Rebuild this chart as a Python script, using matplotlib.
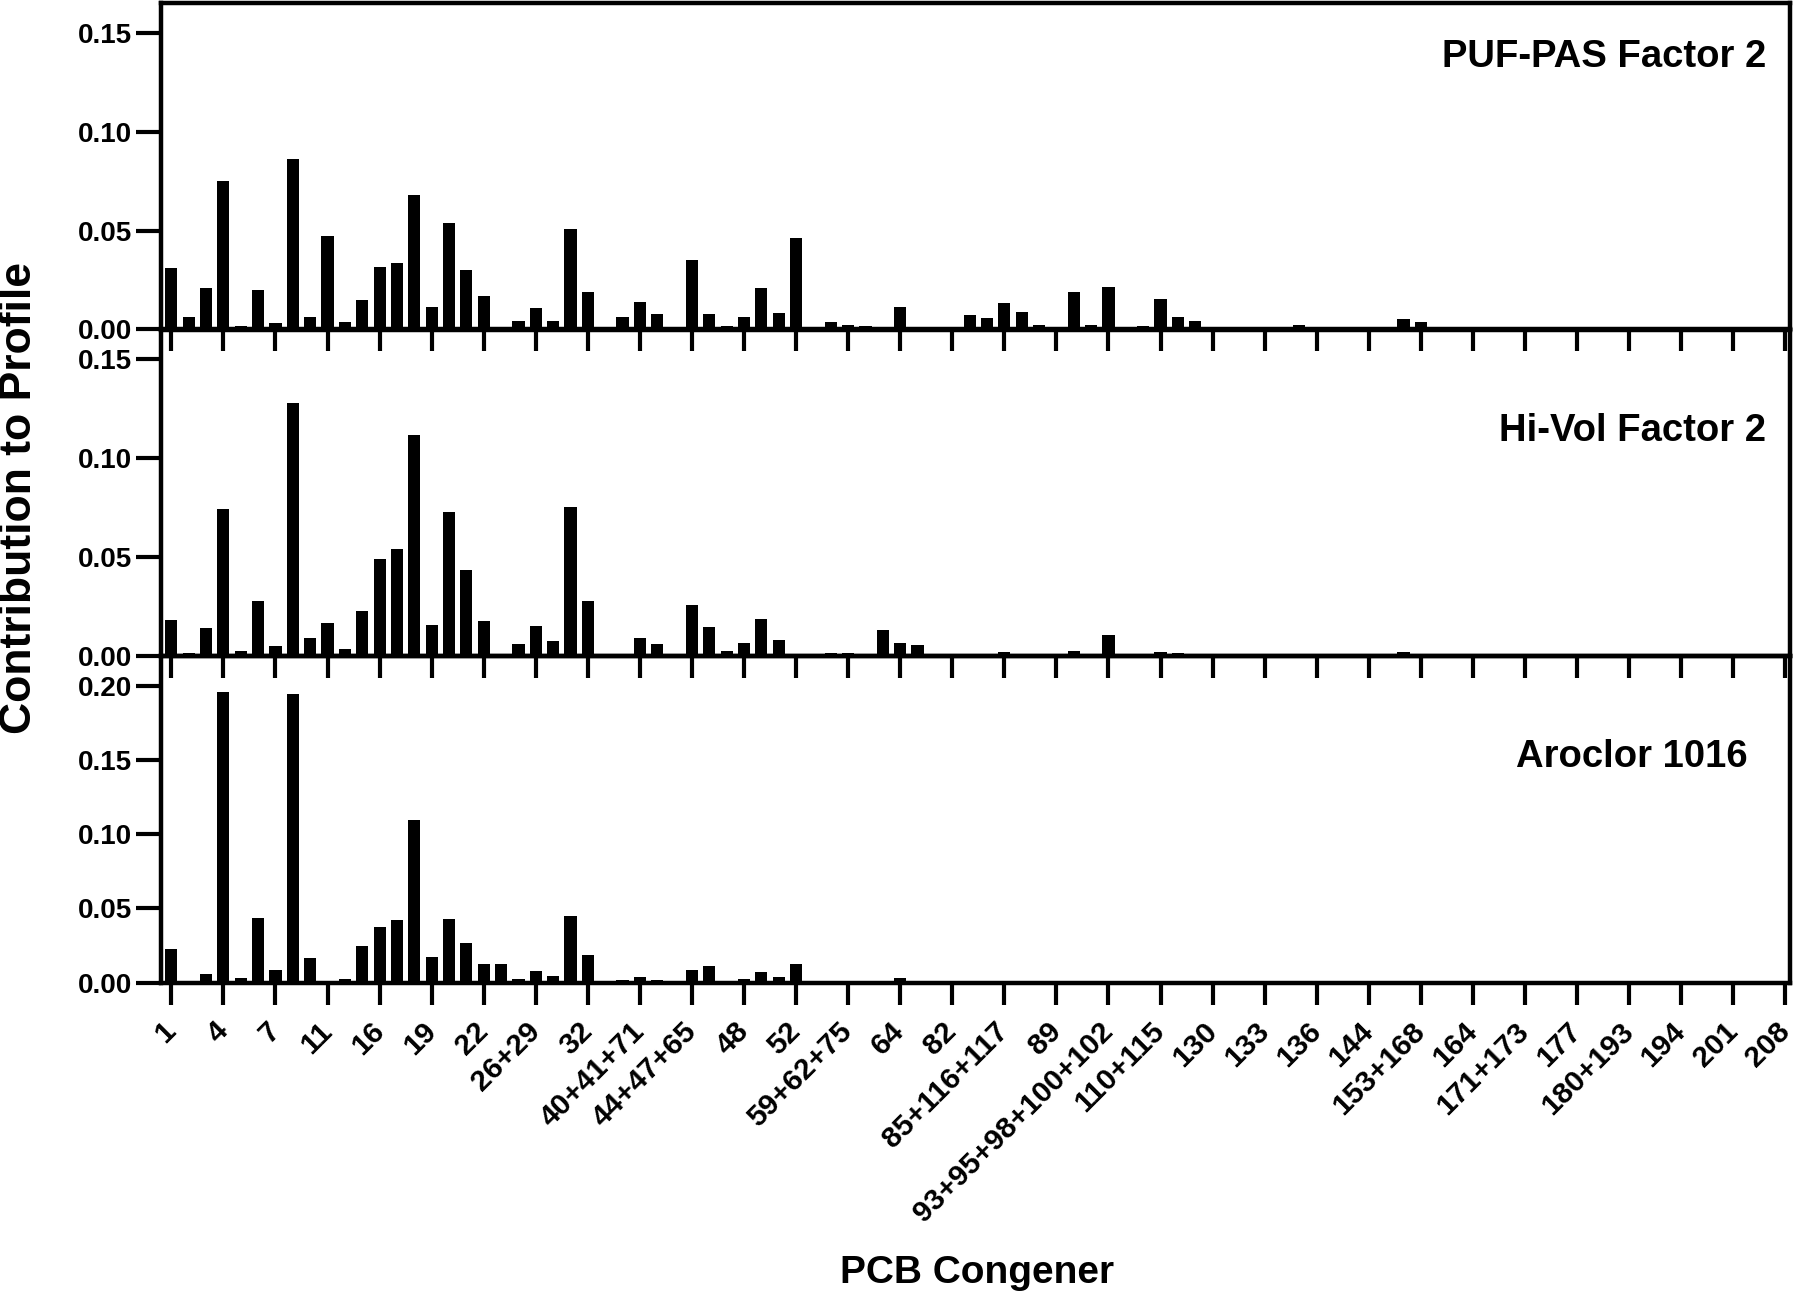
import numpy as np
import matplotlib
matplotlib.use("Agg")
import matplotlib.pyplot as plt

# Congener labels (one label every third bar)
tick_labels = ["1", "4", "7", "11", "16", "19", "22", "26+29", "32", "40+41+71",
               "44+47+65", "48", "52", "59+62+75", "64", "82", "85+116+117", "89",
               "93+95+98+100+102", "110+115", "130", "133", "136", "144", "153+168",
               "164", "171+173", "177", "180+193", "194", "201", "208"]

# Profile contributions, one value per bar (94 bars)
puf_pas = [0.031, 0.0063, 0.021, 0.075, 0.0017, 0.0197, 0.0034, 0.086, 0.0061, 0.047,
           0.0039, 0.015, 0.0315, 0.0337, 0.068, 0.0114, 0.0536, 0.030, 0.017, 0.0,
           0.0041, 0.0108, 0.0044, 0.0508, 0.019, 0.0, 0.0061, 0.014, 0.0076, 0.0007,
           0.035, 0.0078, 0.002, 0.0063, 0.0208, 0.0085, 0.046, 0.0, 0.0036, 0.0024,
           0.002, 0.0, 0.0112, 0.0, 0.0, 0.0014, 0.0075, 0.0056, 0.0136, 0.0086,
           0.0025, 0.0, 0.019, 0.0025, 0.0214, 0.0, 0.002, 0.0153, 0.0063, 0.0041,
           0.0, 0.0, 0.0012, 0.0, 0.0, 0.0022, 0.0012, 0.0, 0.0, 0.0,
           0.0, 0.0054, 0.0036, 0.0, 0.0, 0.0, 0.0, 0.0, 0.0, 0.0,
           0.0, 0.0, 0.0, 0.0, 0.0, 0.0, 0.0007, 0.0, 0.0, 0.0,
           0.0, 0.0, 0.0, 0.0]

hi_vol = [0.018, 0.0017, 0.0143, 0.0744, 0.0026, 0.0278, 0.0051, 0.128, 0.0089, 0.0165,
          0.0036, 0.023, 0.0489, 0.0543, 0.1116, 0.0155, 0.0729, 0.0436, 0.0177, 0.001,
          0.0061, 0.0153, 0.0078, 0.0755, 0.0276, 0.0, 0.0, 0.009, 0.0063, 0.0,
          0.0256, 0.0145, 0.0027, 0.0068, 0.0189, 0.0082, 0.0, 0.0, 0.0017, 0.0017,
          0.001, 0.0133, 0.0065, 0.0056, 0.0, 0.0, 0.001, 0.001, 0.002, 0.001,
          0.0, 0.0, 0.0026, 0.001, 0.0107, 0.0, 0.0, 0.002, 0.0014, 0.0012,
          0.0, 0.0, 0.0, 0.0, 0.0, 0.001, 0.0, 0.0, 0.0, 0.0,
          0.0, 0.0019, 0.0, 0.0, 0.0, 0.0, 0.0, 0.0, 0.0, 0.0,
          0.0, 0.0, 0.0, 0.0, 0.0, 0.0, 0.0, 0.0, 0.0, 0.0,
          0.0, 0.0, 0.0, 0.0]

aroclor = [0.0224, 0.0, 0.006, 0.1957, 0.0034, 0.0434, 0.0084, 0.1946, 0.0163, 0.0,
           0.0023, 0.0247, 0.0373, 0.0423, 0.1095, 0.0174, 0.043, 0.0267, 0.0124, 0.0124,
           0.0025, 0.0081, 0.0043, 0.045, 0.0183, 0.0, 0.0016, 0.0038, 0.0016, 0.0,
           0.0084, 0.011, 0.0, 0.0025, 0.007, 0.0038, 0.0124, 0.0, 0.0, 0.0,
           0.0, 0.0011, 0.0034, 0.0, 0.0, 0.0, 0.0, 0.0, 0.0, 0.0,
           0.0, 0.0, 0.0, 0.0, 0.0, 0.0, 0.0, 0.0, 0.0, 0.0,
           0.0, 0.0, 0.0, 0.0, 0.0, 0.0, 0.0, 0.0, 0.0, 0.0,
           0.0, 0.0, 0.0, 0.0, 0.0, 0.0, 0.0, 0.0, 0.0, 0.0,
           0.0, 0.0, 0.0, 0.0, 0.0, 0.0, 0.0, 0.0, 0.0, 0.0,
           0.0, 0.0, 0.0, 0.0]

panel_names = ["PUF-PAS Factor 2", "Hi-Vol Factor 2", "Aroclor 1016"]
panel_data = [puf_pas, hi_vol, aroclor]
panel_ymax = [0.165, 0.165, 0.22]
panel_yticks = [[0, 0.05, 0.10, 0.15], [0, 0.05, 0.10, 0.15], [0, 0.05, 0.10, 0.15, 0.20]]

plt.rcParams['font.family'] = ['Liberation Sans', 'DejaVu Sans']
plt.rcParams['font.weight'] = 'bold'

fig = plt.figure(figsize=(18, 12.92), dpi=100)

x = np.arange(len(puf_pas))
tick_pos = x[::3]

left, width, height = 0.0897, 0.905, 0.2527
bottoms = [0.745, 0.4922, 0.2395]
title_pos = [(0.985, 0.835), (0.985, 0.69), (0.974, 0.69)]

axes = []
for k in range(3):
    ax = fig.add_axes((left, bottoms[k], width, height))
    ax.set_facecolor('none')
    ax.bar(x, panel_data[k], width=0.7, color='black')
    ax.set_xlim(-0.57, 93.3)
    ax.set_ylim(0, panel_ymax[k])
    ax.set_yticks(panel_yticks[k])
    ax.set_yticklabels([f"{v:.2f}" for v in panel_yticks[k]])
    ax.set_xticks(tick_pos)
    for s in ax.spines.values():
        s.set_linewidth(3.2)
    ax.tick_params(axis='y', direction='out', length=18, width=3, pad=3, labelsize=20)
    ax.tick_params(axis='x', direction='out', length=16, width=3)
    ax.text(title_pos[k][0], title_pos[k][1], panel_names[k], transform=ax.transAxes,
            ha='right', va='center', fontsize=27.5, fontweight='bold')
    if k < 2:
        ax.set_xticklabels([])
    else:
        ax.set_xticklabels(tick_labels, rotation=45, ha='right', va='center',
                           rotation_mode='anchor', fontsize=21.5)
        ax.tick_params(axis='x', pad=16)
    axes.append(ax)

fig.text(0.011, 0.6146, "Contribution to Profile", rotation=90, ha='center', va='center',
         fontsize=32, fontweight='bold')
fig.text(0.543, 0.015, "PCB Congener", ha='center', va='center', fontsize=28,
         fontweight='bold')

fig.savefig("out.png", dpi=100)
